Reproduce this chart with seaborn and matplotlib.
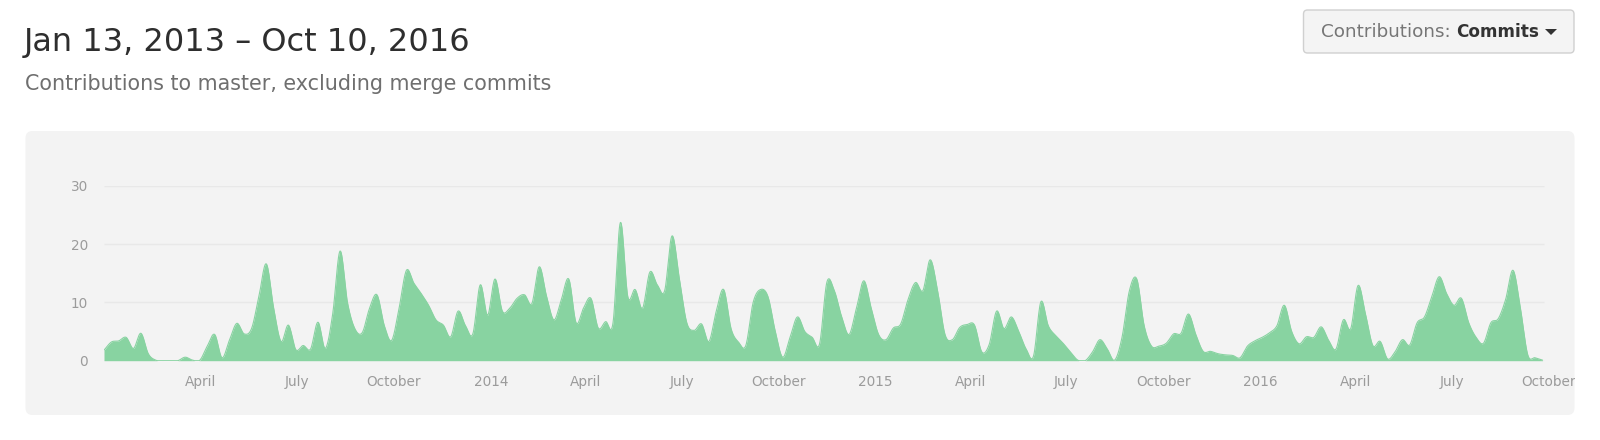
import numpy as np
import pandas as pd
import matplotlib
matplotlib.use("Agg")
import matplotlib.pyplot as plt
import seaborn as sns
from matplotlib.patches import FancyBboxPatch, Rectangle, Polygon

# --- data: weekly commit counts ---
first_week = "2012-12-30"
weekly_commits = [
    1.8, 3.2, 3.4, 4.0, 2.1, 4.7, 1.2, 0.1, 0.0, 0.0,
    0.0, 0.6, 0.1, 0.1, 2.5, 4.5, 0.5, 3.5, 6.4, 4.6,
    5.5, 11.0, 16.6, 9.0, 3.3, 6.1, 1.9, 2.6, 2.0, 6.6,
    2.1, 8.0, 18.8, 10.0, 5.5, 4.8, 9.0, 11.3, 6.0, 3.5,
    9.0, 15.5, 13.3, 11.5, 9.5, 7.0, 6.1, 4.1, 8.5, 6.0,
    4.6, 13.0, 7.8, 14.0, 8.5, 9.0, 10.7, 11.3, 9.8, 16.1,
    11.0, 7.0, 10.5, 14.0, 6.5, 9.0, 10.7, 5.6, 6.7, 6.5,
    23.7, 11.0, 12.2, 9.0, 15.2, 13.0, 12.0, 21.4, 14.0, 6.5,
    5.2, 6.3, 3.3, 8.5, 12.2, 5.5, 3.2, 2.6, 10.0, 12.2,
    11.0, 5.0, 0.6, 4.0, 7.5, 5.0, 4.0, 2.9, 13.5, 12.0,
    7.5, 4.5, 9.0, 13.7, 9.0, 4.5, 3.6, 5.6, 6.3, 10.5,
    13.4, 12.0, 17.3, 12.0, 4.5, 3.6, 5.7, 6.2, 6.1, 1.5,
    2.8, 8.5, 5.5, 7.5, 5.0, 2.0, 0.8, 10.1, 6.0, 4.3,
    3.0, 1.5, 0.1, 0.0, 1.5, 3.6, 2.0, 0.1, 4.0, 12.0,
    14.0, 6.0, 2.5, 2.5, 3.0, 4.6, 4.7, 8.0, 4.5, 1.6,
    1.6, 1.2, 1.0, 0.9, 0.5, 2.5, 3.4, 4.0, 4.8, 6.0,
    9.5, 5.0, 2.9, 4.1, 4.0, 5.8, 3.5, 2.0, 7.0, 5.5,
    12.9, 8.0, 2.6, 3.3, 0.3, 1.5, 3.6, 2.7, 6.5, 7.5,
    11.0, 14.4, 11.5, 9.5, 10.7, 6.5, 4.0, 3.0, 6.5, 7.2,
    10.5, 15.5, 9.0, 1.0, 0.5, 0.1,
]
tick_dates = ["2013-04-01", "2013-07-01", "2013-10-01", "2014-01-01",
              "2014-04-01", "2014-07-01", "2014-10-01", "2015-01-01",
              "2015-04-01", "2015-07-01", "2015-10-01", "2016-01-01",
              "2016-04-01", "2016-07-01", "2016-10-01"]
tick_labels = ["April", "July", "October", "2014",
               "April", "July", "October", "2015",
               "April", "July", "October", "2016",
               "April", "July", "October"]
y_ticks = [0, 10, 20, 30]

title = "Jan 13, 2013 \u2013 Oct 10, 2016"
subtitle = "Contributions to master, excluding merge commits"

GREEN = "#88d3a1"
PANEL = "#f3f3f3"
GREY_TXT = "#9b9b9b"

weeks = pd.date_range(first_week, periods=len(weekly_commits), freq="7D")


# smooth curve through the weekly points (Catmull-Rom), kept above zero
def smooth_curve(y, sub=14):
    y = np.asarray(y, float)
    m = np.zeros_like(y)
    m[1:-1] = (y[2:] - y[:-2]) / 2
    m[0] = y[1] - y[0]
    m[-1] = y[-1] - y[-2]
    t = np.linspace(0, 1, sub, endpoint=False)[None, :]
    k = np.arange(len(y) - 1)[:, None]
    h00 = 2 * t**3 - 3 * t**2 + 1
    h10 = t**3 - 2 * t**2 + t
    h01 = -2 * t**3 + 3 * t**2
    h11 = t**3 - t**2
    yy = h00 * y[k] + h10 * m[k] + h01 * y[k + 1] + h11 * m[k + 1]
    xx = k + t
    return np.append(xx.ravel(), len(y) - 1), np.clip(np.append(yy.ravel(), y[-1]), 0, None)


xs, ys = smooth_curve(weekly_commits)
curve = pd.DataFrame({
    "date": weeks[0] + pd.to_timedelta(xs * 7, unit="D"),
    "commits": ys,
})

sns.set_theme(style="white")
plt.rcParams["font.family"] = ["DejaVu Sans"]

fig = plt.figure(figsize=(16, 4.4), dpi=100)
fig.patch.set_facecolor("white")

# background layer in pixel coordinates
bg = fig.add_axes([0, 0, 1, 1])
bg.set_xlim(0, 1600)
bg.set_ylim(440, 0)
bg.axis("off")
bg.add_patch(FancyBboxPatch((25.5, 131), 1549, 284,
                            boxstyle="round,pad=0,rounding_size=7",
                            fc=PANEL, ec="none"))
bg.text(24, 51, title, fontsize=23, color="#2e2e2e", va="baseline")
bg.text(25, 90, subtitle, fontsize=14.85, color="#6f6f6f", va="baseline")

# dropdown button
bg.add_patch(FancyBboxPatch((1303.5, 10), 270.5, 43,
                            boxstyle="round,pad=0,rounding_size=4",
                            fc="#f4f4f4", ec="#d0d0d0", lw=1))
bg.text(1321.5, 37, "Contributions:", fontsize=13.2, color="#767676", va="baseline")
bg.text(1456.5, 37, "Commits", fontsize=12.2, color="#333333", va="baseline",
        fontweight="bold")
bg.add_patch(Polygon([[1545, 29], [1557, 29], [1551, 35]], closed=True,
                     fc="#333333", ec="none"))

# chart axes
ax = fig.add_axes([104 / 1600, (440 - 360.7) / 440, 1448 / 1600, 175 / 440])
ax.patch.set_alpha(0)
x0 = pd.Timestamp(first_week)
ax.set_xlim(x0, x0 + pd.Timedelta(days=1374))
ax.set_ylim(0, 30)

ax.hlines(y_ticks, x0, x0 + pd.Timedelta(days=1366), color="#e8e8e8", lw=1, zorder=0)

ax.fill_between(curve["date"], curve["commits"], 0, color=GREEN, lw=0, zorder=2)
sns.lineplot(data=curve, x="date", y="commits", ax=ax, color=GREEN, lw=0.8,
             estimator=None, sort=False, zorder=3)

ax.set_xticks(pd.to_datetime(tick_dates))
ax.set_xticklabels(tick_labels)
ax.set_yticks(y_ticks)
ax.set_yticklabels([str(v) for v in y_ticks])
ax.tick_params(axis="x", length=4.5, width=0.8, color="#e2e2e2",
               labelcolor=GREY_TXT, labelsize=9.8, pad=5.5, direction="out")
ax.tick_params(axis="y", length=0, labelcolor=GREY_TXT, labelsize=9.8, pad=11.5)
ax.set_xlabel("")
ax.set_ylabel("")
for sp in ax.spines.values():
    sp.set_visible(False)

# the last tick label is cut off by the panel edge
fig.add_artist(Rectangle((1575 / 1600, 0), 25 / 1600, 1, transform=fig.transFigure,
                         fc="white", ec="none", zorder=10))

fig.savefig("out.png", dpi=100, facecolor="white")
